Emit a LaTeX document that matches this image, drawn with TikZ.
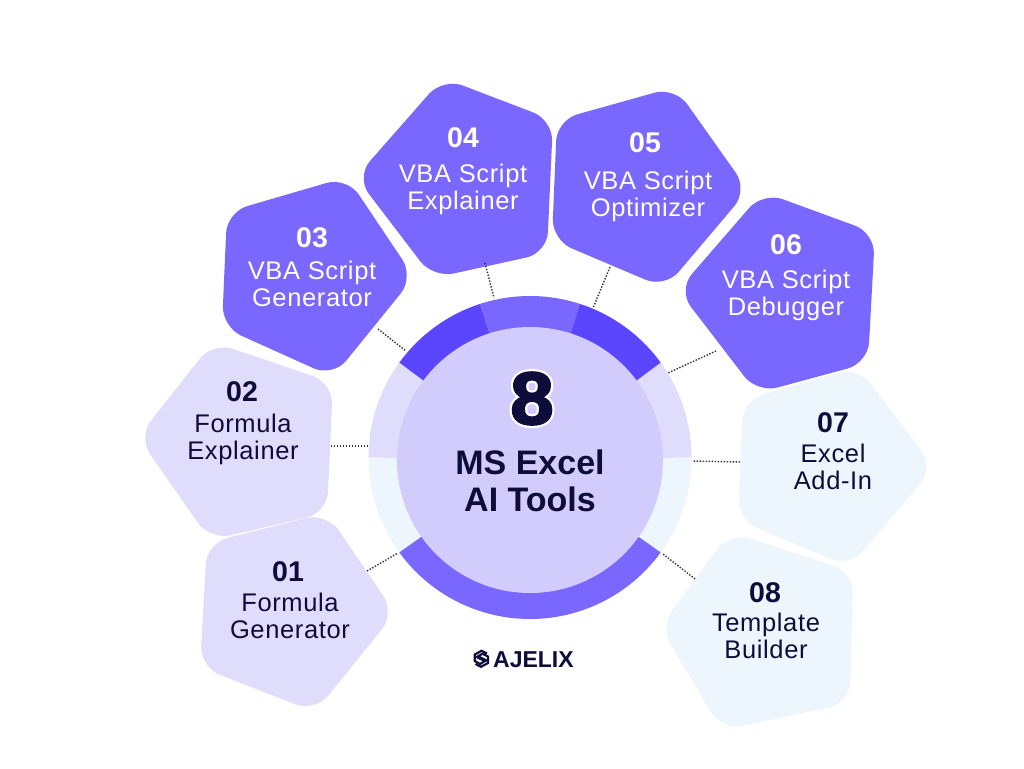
\documentclass[tikz,border=0pt]{standalone}
\usepackage{fontspec}
\setmainfont{Liberation Sans}
\newfontfamily\labelfont[LetterSpace=2.5]{Liberation Sans}
\newfontfamily\numfont[LetterSpace=1]{Liberation Sans Bold}
\newfontfamily\titlefont{Liberation Sans Bold}
\newfontfamily\heavyfont[FakeBold=3,FakeStretch=1.05]{Liberation Sans Bold}
\newfontfamily\haloffont[FakeBold=9,FakeStretch=1.05]{Liberation Sans Bold}
\definecolor{midv}{HTML}{7A67FD}
\definecolor{deepv}{HTML}{5B45FF}
\definecolor{lightv}{HTML}{E0DCFC}
\definecolor{paleb}{HTML}{EEF6FD}
\definecolor{hubv}{HTML}{D2CCFD}
\definecolor{ink}{HTML}{0E0C3A}
\definecolor{dotc}{HTML}{2E2E3E}
\tikzset{
  pent/.style={rounded corners=21pt},
  numtxt/.style={anchor=base,inner sep=0pt,font=\numfont\fontsize{28.5}{28.5}\selectfont},
  labtxt/.style={anchor=center,inner sep=0pt,align=center,font=\labelfont\fontsize{25.5}{27}\selectfont},
  link/.style={draw=dotc,line width=1.4pt,dash pattern=on 1.4pt off 1.6pt}
}
\newcommand{\ringseg}[3]{\fill[#1] (530,457.5)++(#2:161.5) arc[start angle=#2,end angle=#3,radius=161.5] -- (530,460) -- cycle;}
\begin{document}
\begin{tikzpicture}[x=1pt,y=1pt,yscale=-1]
\useasboundingbox (0,0) rectangle (1024,768);
\fill[white] (0,0) rectangle (1024,768);
% ring
\ringseg{lightv}{180}{216}
\ringseg{lightv}{-36}{0}
\ringseg{paleb}{144}{180}
\ringseg{paleb}{0}{36}
\ringseg{midv}{36}{144}
\ringseg{deepv}{216}{252}
\ringseg{midv}{252}{288}
\ringseg{deepv}{288}{324}
\node[circle,fill=hubv,minimum size=266pt,inner sep=0pt] (hub) at (530,460) {};
% pentagons
\fill[pent,lightv] (207,543)--(327,513)--(395,613)--(315,712)--(200,667)--cycle;
\fill[pent,lightv] (213,342)--(333,383)--(327,513)--(210,540)--(138,437)--cycle;
\fill[pent,midv] (227,212)--(347,177)--(414,277)--(333,377)--(222,327)--cycle;
\fill[pent,midv] (443,78)--(553,120)--(547,253)--(433,278)--(356,177)--cycle;
\fill[pent,midv] (557,120)--(675,87)--(748,190)--(665,288)--(552,240)--cycle;
\fill[pent,midv] (763,192)--(875,233)--(868,363)--(757,393)--(678,290)--cycle;
\fill[pent,paleb] (743,400)--(858,367)--(934,467)--(850,567)--(738,520)--cycle;
\fill[pent,paleb] (730,532)--(853,572)--(850,703)--(722,730)--(660,627)--cycle;
% text
\node[numtxt,text=ink] (n01) at (288,581) {01};
\node[labtxt,text=ink] (t01) at (290,615.5) {Formula\\Generator};
\node[numtxt,text=ink] (n02) at (242,401) {02};
\node[labtxt,text=ink] (t02) at (243,439) {Formula\\Explainer};
\node[numtxt,text=white] (n03) at (312,247) {03};
\node[labtxt,text=white] (t03) at (312,284) {VBA Script\\Generator};
\node[numtxt,text=white] (n04) at (463,147) {04};
\node[labtxt,text=white] (t04) at (463,189) {VBA Script\\Explainer};
\node[numtxt,text=white] (n05) at (645,152) {05};
\node[labtxt,text=white] (t05) at (648,196) {VBA Script\\Optimizer};
\node[numtxt,text=white] (n06) at (786,254) {06};
\node[labtxt,text=white] (t06) at (786,295) {VBA Script\\Debugger};
\node[numtxt,text=ink] (n07) at (833,432) {07};
\node[labtxt,text=ink] (t07) at (833,466.5) {Excel\\Add-In};
\node[numtxt,text=ink] (n08) at (765,602) {08};
\node[labtxt,text=ink] (t08) at (766,635.5) {Template\\Builder};
% centre
\node[anchor=base,inner sep=0pt,text=white,font=\haloffont\fontsize{74}{74}\selectfont] (eighthalo) at (532,424) {8};
\node[anchor=base,inner sep=0pt,text=ink,font=\heavyfont\fontsize{74}{74}\selectfont] (eight) at (532,424) {8};
\node[anchor=center,inner sep=0pt,align=center,text=ink,font=\titlefont\fontsize{34}{37}\selectfont] (title) at (530,481) {MS Excel\\AI Tools};
% connector ends
\coordinate (a1) at (367,571); \coordinate (b1) at (398,553);
\coordinate (a2) at (331,446); \coordinate (b2) at (368,446);
\coordinate (a3) at (378,329); \coordinate (b3) at (406,351);
\coordinate (a4) at (485,263); \coordinate (b4) at (494,298);
\coordinate (a5) at (610,267); \coordinate (b5) at (593,308);
\coordinate (a6) at (716,351); \coordinate (b6) at (668,373);
\coordinate (a7) at (740,462); \coordinate (b7) at (692,461);
\coordinate (a8) at (695,579); \coordinate (b8) at (663,554);
\foreach \k in {1,...,8} \draw[link] (a\k) -- (b\k);
% logo
\draw[ink,line width=2.2pt,line join=miter] (487,653.5)--(481.5,650.8)--(474.8,654.5)--(474.8,661)--(480,664)--(485,661)--(476.5,657);
\draw[ink,line width=2.2pt,line join=miter] (475.5,664)--(481,666.8)--(488,663)--(488,656.5)--(482.5,653.7)--(478,656.3)--(486.5,660.5);
\node[anchor=base west,inner sep=0pt,text=ink,font=\titlefont\fontsize{23}{23}\selectfont] (logo) at (493,667) {AJELIX};
\end{tikzpicture}
\end{document}
